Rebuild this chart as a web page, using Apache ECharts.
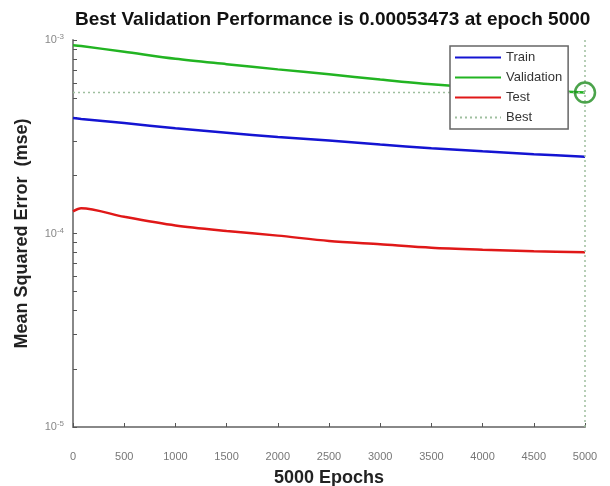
<!DOCTYPE html>
<html>
<head>
<meta charset="utf-8">
<script src="https://cdn.jsdelivr.net/npm/echarts@6/dist/echarts.min.js"></script>
<style>
  html, body { margin: 0; padding: 0; background: #fff; }
  #chart { width: 610px; height: 486px; }
</style>
</head>
<body>
<div id="chart"></div>
<script>
// training record
const epochs     = [0, 80, 500, 1000, 1500, 2000, 2500, 3000, 3500, 4000, 4500, 5000]
const trainMse   = [3.95e-4, 3.91e-4, 3.72e-4, 3.50e-4, 3.32e-4, 3.15e-4, 3.02e-4, 2.88e-4, 2.76e-4, 2.66e-4, 2.57e-4, 2.49e-4]
const validMse   = [9.40e-4, 9.30e-4, 8.70e-4, 8.00e-4, 7.50e-4, 7.05e-4, 6.65e-4, 6.25e-4, 5.90e-4, 5.65e-4, 5.50e-4, 5.3473e-4]
const testMse    = [1.30e-4, 1.35e-4, 1.22e-4, 1.10e-4, 1.03e-4, 9.75e-5, 9.15e-5, 8.80e-5, 8.45e-5, 8.25e-5, 8.10e-5, 8.00e-5]
const bestEpoch  = 5000
const bestPerf   = 0.00053473
const xTicks     = [0, 500, 1000, 1500, 2000, 2500, 3000, 3500, 4000, 4500, 5000]
const yDecades   = [1e-5, 1e-4, 1e-3]

// minor ticks 2..9 inside each decade, like matlab
const yTicks = []
yDecades.forEach((d, i) => {
  if (i === yDecades.length - 1) { yTicks.push(d); return }
  for (let k = 1; k < 10; k++) yTicks.push(+(k * d).toPrecision(3))
})

const zip = (xs, ys) => xs.map((x, i) => [x, ys[i]])

const chart = echarts.init(document.getElementById('chart'))
const font = 'Liberation Sans'

const option = {
  backgroundColor: '#fff',
  animation: false,
  title: {
    text: 'Best Validation Performance is ' + bestPerf + ' at epoch ' + bestEpoch,
    left: 70,
    top: 5,
    textStyle: { fontFamily: font, fontSize: 19, fontWeight: 'bold', color: '#111' }
  },
  legend: {
    orient: 'vertical',
    left: 450,
    top: 46,
    itemWidth: 46,
    itemHeight: 10,
    itemGap: 7,
    padding: [5, 6, 5, 4],
    borderColor: '#666',
    borderWidth: 1.5,
    backgroundColor: '#fff',
    itemStyle: { opacity: 0 },
    textStyle: { fontFamily: font, fontSize: 13, color: '#333' },
    data: ['Train', 'Validation', 'Test', 'Best']
  },
  grid: { left: 73, right: 25, top: 40, bottom: 59, outerBoundsMode: 'none', containLabel: false },
  xAxis: {
    type: 'value',
    min: 0,
    max: 5000,
    interval: 500,
    name: '5000 Epochs',
    nameLocation: 'middle',
    nameGap: 42,
    nameTextStyle: { fontFamily: font, fontSize: 18, fontWeight: 'bold', color: '#222' },
    axisLine: { lineStyle: { color: '#888', width: 2 } },
    axisTick: { inside: true, length: 4, customValues: xTicks, lineStyle: { color: '#555' } },
    axisLabel: {
      customValues: xTicks,
      formatter: v => String(v),
      fontFamily: font, fontSize: 11, color: '#777', margin: 24
    },
    splitLine: { show: false }
  },
  yAxis: {
    type: 'log',
    logBase: 10,
    min: 1e-5,
    max: 1e-3,
    name: 'Mean Squared Error  (mse)',
    nameLocation: 'middle',
    nameGap: 42,
    nameTextStyle: { fontFamily: font, fontSize: 18, fontWeight: 'bold', color: '#222' },
    axisLine: { show: true, lineStyle: { color: '#888', width: 2 } },
    axisTick: { inside: true, length: 4, customValues: yTicks, lineStyle: { color: '#555' } },
    axisLabel: {
      customValues: yDecades,
      margin: 9,
      formatter: v => '{b|10}{s|' + Math.round(Math.log10(v)) + '}',
      rich: {
        b: { fontFamily: font, fontSize: 11, color: '#888' },
        s: { fontFamily: font, fontSize: 8, color: '#888', verticalAlign: 'top', padding: [0, 0, 6, 0] }
      }
    },
    splitLine: { show: false }
  },
  series: [
    {
      name: 'Train', type: 'line', data: zip(epochs, trainMse), symbol: 'none', smooth: 0.3,
      lineStyle: { color: '#1414d2', width: 2.5 }, itemStyle: { color: '#1414d2' }
    },
    {
      name: 'Validation', type: 'line', data: zip(epochs, validMse), symbol: 'none', smooth: 0.3,
      lineStyle: { color: '#22b422', width: 2.5 }, itemStyle: { color: '#22b422' }
    },
    {
      name: 'Test', type: 'line', data: zip(epochs, testMse), symbol: 'none', smooth: 0.3,
      lineStyle: { color: '#e01818', width: 2.5 }, itemStyle: { color: '#e01818' }
    },
    {
      name: 'Best', type: 'line', data: [[0, bestPerf], [bestEpoch, bestPerf]], symbol: 'none',
      lineStyle: { color: '#9fbf9f', width: 1.5, type: [2, 3] }, itemStyle: { color: '#9fbf9f' },
      markLine: {
        silent: true, symbol: 'none', label: { show: false },
        lineStyle: { color: '#9fbf9f', width: 1.5, type: [2, 3] },
        data: [{ xAxis: bestEpoch }]
      }
    },
    {
      name: 'best point', type: 'scatter', data: [[bestEpoch, bestPerf]],
      symbol: 'circle', symbolSize: 20, z: 5,
      itemStyle: { color: 'rgba(0,0,0,0)', borderColor: '#1e8c1e', borderWidth: 2.5 }
    }
  ]
}

chart.setOption(option)
</script>
</body>
</html>
